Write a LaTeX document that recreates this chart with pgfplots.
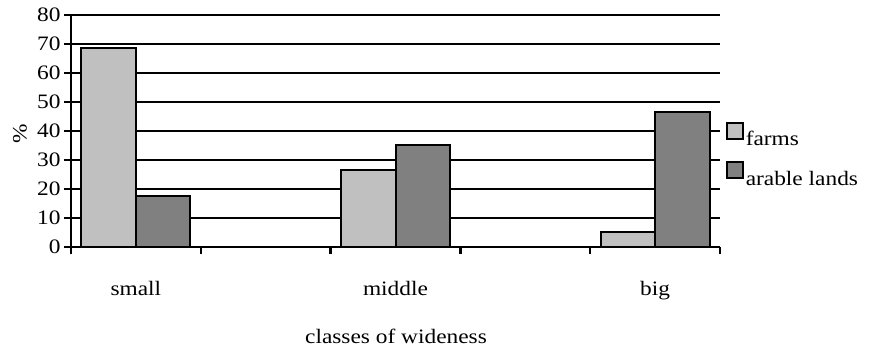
\documentclass[border=0pt]{standalone}
\usepackage{pgfplots}
\pgfplotsset{compat=1.18}
\usepackage{fontspec}
\setmainfont{Liberation Serif}[FakeStretch=1.14]
\definecolor{farmc}{HTML}{C0C0C0}
\definecolor{arabc}{HTML}{808080}
\begin{document}
\begin{tikzpicture}
\useasboundingbox (-71bp,-104bp) rectangle (810bp,247bp);
\begin{axis}[
  at={(0,0)}, anchor=south west,
  scale only axis,
  width=649bp, height=232bp,
  xmin=-0.5, xmax=4.5, ymin=0, ymax=80,
  axis x line=bottom, axis y line=left,
  axis line style={-, line width=2.5bp, black},
  font=\fontsize{20.5bp}{24bp}\selectfont,
  /pgf/number format/assume math mode=true,
  ytick={0,10,...,80},
  xtick={-0.5,0.5,1.5,2.5,3.5,4.5},
  xticklabels={},
  extra x ticks={0,2,4},
  extra x tick labels={small,middle,big},
  extra x tick style={major tick length=0pt, grid=none, tick label style={anchor=base, yshift=-48bp}},
  tick align=outside,
  major tick length=7bp,
  tick style={line width=2.5bp, black},
  ymajorgrids,
  grid style={line width=2.5bp, black},
  ylabel={\%},
  ylabel style={at={(axis description cs:-0.0786,0.49)}, anchor=center},
  xlabel={classes of wideness},
  xlabel style={at={(axis description cs:0.5008,-0.418)}, anchor=base},
  legend style={at={(axis description cs:1.004,0.396)}, anchor=west, draw=none, fill=none,
    row sep=12bp, font=\fontsize{20.5bp}{24bp}\selectfont},
  legend cell align=left,
  legend image code/.code={\draw[#1, line width=2bp] (0bp,0.5bp) rectangle (16bp,16.5bp);},
]
\addplot[ybar, bar width=0.42, bar shift=-0.21, fill=farmc, draw=black, line width=2bp]
  coordinates {(0,68.5) (2,26.5) (4,5.1)};
\addlegendentry{farms}
\addplot[ybar, bar width=0.42, bar shift=0.21, fill=arabc, draw=black, line width=2bp]
  coordinates {(0,17.6) (2,35.2) (4,46.4)};
\addlegendentry{arable lands}
\end{axis}
\end{tikzpicture}
\end{document}
